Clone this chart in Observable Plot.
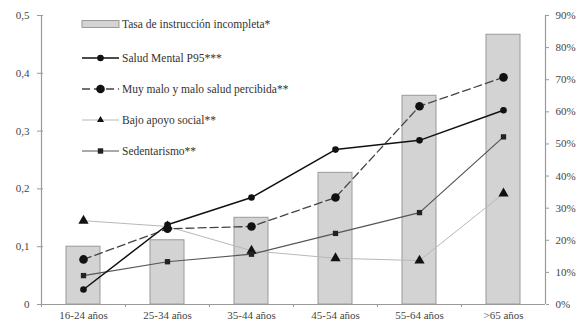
<!DOCTYPE html>
<html>
<head>
<meta charset="utf-8">
<script src="https://cdn.jsdelivr.net/npm/d3@7"></script>
<script src="https://cdn.jsdelivr.net/npm/@observablehq/plot@0.6"></script>
<style>
  html, body { margin: 0; padding: 0; background: #fff; }
  #wrap { position: relative; width: 581px; height: 326px; }
  #legend { position: absolute; left: 0; top: 0; }
</style>
</head>
<body>
<div id="wrap"></div>
<script>
const categories = ["16-24 años", "25-34 años", "35-44 años", "45-54 años", "55-64 años", ">65 años"];
const tasaInstruccion = [18, 20, 27, 41, 65, 84];          // % (right axis)
const saludMental = [0.026, 0.138, 0.185, 0.268, 0.284, 0.336];
const saludPercibida = [0.078, 0.131, 0.135, 0.185, 0.343, 0.393];
const apoyoSocial = [0.145, 0.135, 0.093, 0.080, 0.076, 0.192];
const sedentarismo = [0.050, 0.074, 0.087, 0.123, 0.159, 0.290];
const leftTicks = [0, 0.1, 0.2, 0.3, 0.4, 0.5];
const rightTicks = [0, 10, 20, 30, 40, 50, 60, 70, 80, 90];
const seriesNames = ["Tasa de instrucción incompleta*", "Salud Mental P95***", "Muy malo y malo salud percibida**", "Bajo apoyo social**", "Sedentarismo**"];

const leftMax = 0.5, rightMax = 90;
const toLeft = p => p * leftMax / rightMax;

const bars = categories.map((c, i) => ({cat: c, v: toLeft(tasaInstruccion[i])}));
const mk = arr => categories.map((c, i) => ({cat: c, v: arr[i]}));

const font = "'Liberation Serif', 'DejaVu Serif', serif";
const axisColor = "#9a9a9a";
const textColor = "#444";

const W = 581, H = 326, mL = 40, mR = 36, mT = 15, mB = 22;

const chart = Plot.plot({
  width: W, height: H,
  marginLeft: mL, marginRight: mR, marginTop: mT, marginBottom: mB,
  style: {fontFamily: font, fontSize: "11px", color: textColor, background: "#fff"},
  x: {type: "band", domain: categories, padding: 0, label: null},
  y: {domain: [0, leftMax], label: null},
  marks: [
    Plot.barY(bars, {x: "cat", y: "v", fill: "#d3d3d3", stroke: "#9a9a9a", strokeWidth: 1, insetLeft: 25, insetRight: 25}),
    // axis lines
    Plot.ruleY([0], {stroke: axisColor, strokeWidth: 1.2}),
    Plot.ruleX([categories[0]], {x: d => d, dx: -42, y1: 0, y2: leftMax, stroke: axisColor, strokeWidth: 1.2}),
    Plot.ruleX([categories[5]], {x: d => d, dx: 42, y1: 0, y2: leftMax, stroke: axisColor, strokeWidth: 1.2}),
    // series lines
    Plot.line(mk(apoyoSocial), {x: "cat", y: "v", stroke: "#b8b8b8", strokeWidth: 1}),
    Plot.line(mk(sedentarismo), {x: "cat", y: "v", stroke: "#555", strokeWidth: 1.2}),
    Plot.line(mk(saludPercibida), {x: "cat", y: "v", stroke: "#444", strokeWidth: 1.3, strokeDasharray: "8,4"}),
    Plot.line(mk(saludMental), {x: "cat", y: "v", stroke: "#111", strokeWidth: 1.5}),
    Plot.dot(mk(apoyoSocial), {x: "cat", y: "v", symbol: "triangle", r: 3.8, fill: "#111"}),
    Plot.dot(mk(sedentarismo), {x: "cat", y: "v", symbol: "square", r: 3, fill: "#222"}),
    Plot.dot(mk(saludPercibida), {x: "cat", y: "v", r: 4.3, fill: "#111"}),
    Plot.dot(mk(saludMental), {x: "cat", y: "v", r: 3.3, fill: "#111"}),
    // x axis
    Plot.axisX({tickSize: 0, tickPadding: 7, fontSize: 11, fill: textColor, label: null}),
    Plot.axisX({tickSize: 3, tickFormat: () => "", dx: -42.1, stroke: axisColor, label: null}),
    // left axis
    Plot.axisY({ticks: leftTicks, tickSize: 3, tickPadding: 8, fontSize: 11, tickFormat: d => d === 0 ? "0" : d3.format(".1f")(d).replace(".", ","), stroke: axisColor, fill: textColor, label: null}),
    Plot.axisY({ticks: leftTicks, tickSize: 3, anchor: "left", dx: 3, tickFormat: () => "", stroke: axisColor, label: null}),
    // right axis
    Plot.axisY({anchor: "right", ticks: rightTicks.map(toLeft), tickSize: 3, tickPadding: 7, fontSize: 11, tickFormat: d => Math.round(d * rightMax / leftMax) + "%", stroke: axisColor, fill: textColor, label: null}),
  ]
});
const wrap = document.getElementById("wrap");
wrap.appendChild(chart);

// legend overlay
const lg = d3.select(wrap).append("svg").attr("id", "legend").attr("width", 340).attr("height", 170)
  .style("font-family", font).style("font-size", "11.5px");
const rows = [24, 58, 89, 120, 151];
const sx = 82, ex = 119, mx = (sx + ex) / 2, tx = 122;
lg.append("rect").attr("x", sx).attr("y", rows[0] - 3.5).attr("width", ex - sx).attr("height", 7)
  .attr("fill", "#d3d3d3").attr("stroke", "#9a9a9a");
lg.append("line").attr("x1", sx).attr("x2", ex).attr("y1", rows[1]).attr("y2", rows[1]).attr("stroke", "#111").attr("stroke-width", 1.5);
lg.append("circle").attr("cx", mx).attr("cy", rows[1]).attr("r", 3.3).attr("fill", "#111");
lg.append("line").attr("x1", sx).attr("x2", ex).attr("y1", rows[2]).attr("y2", rows[2]).attr("stroke", "#444").attr("stroke-width", 1.3).attr("stroke-dasharray", "8,4");
lg.append("circle").attr("cx", mx).attr("cy", rows[2]).attr("r", 4.3).attr("fill", "#111");
lg.append("line").attr("x1", sx).attr("x2", ex).attr("y1", rows[3]).attr("y2", rows[3]).attr("stroke", "#b8b8b8").attr("stroke-width", 1);
lg.append("path").attr("d", d3.symbol(d3.symbolTriangle2, 36)()).attr("transform", `translate(${mx},${rows[3]})`).attr("fill", "#111");
lg.append("line").attr("x1", sx).attr("x2", ex).attr("y1", rows[4]).attr("y2", rows[4]).attr("stroke", "#555").attr("stroke-width", 1.2);
lg.append("rect").attr("x", mx - 2.7).attr("y", rows[4] - 2.7).attr("width", 5.4).attr("height", 5.4).attr("fill", "#222");
seriesNames.forEach((n, i) => {
  lg.append("text").attr("x", tx).attr("y", rows[i]).attr("dy", "0.35em").attr("fill", "#333").text(n);
});
</script>
</body>
</html>
